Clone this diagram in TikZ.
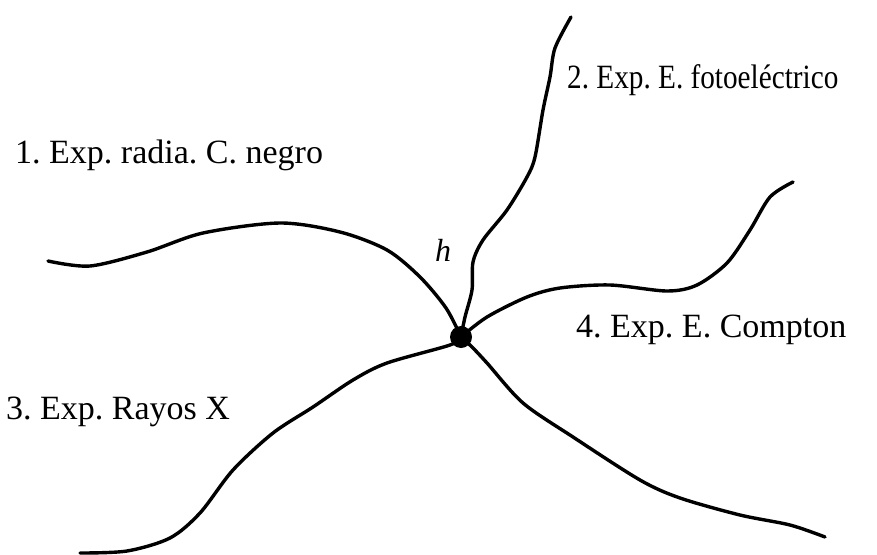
\documentclass[tikz,border=0pt]{standalone}
\usepackage{fontspec}
\setmainfont{Liberation Serif}
\usepackage{tikz}

\begin{document}
\frenchspacing
\begin{tikzpicture}[
  x=1pt, y=-1pt,
  ray/.style={line width=3.4pt, line cap=round, line join=round},
  hubdot/.style={circle, fill=black, minimum size=22pt, inner sep=0pt},
  lbl/.style={anchor=west, inner sep=0pt, font=\fontsize{34}{38}\selectfont}
]
\useasboundingbox (0,0) rectangle (877,554);
\node[hubdot] (hub) at (461,337) {};
\node[lbl] (l1) at (15,155) {1. Exp. radia. C. negro};
\node[lbl, xscale=0.86, transform shape] (l2) at (567,80) {2. Exp. E. fotoeléctrico};
\node[lbl] (l3) at (6,412) {3. Exp. Rayos X};
\node[lbl] (l4) at (576,330) {4. Exp. E. Compton};
\node[font=\fontsize{32}{36}\selectfont\itshape, inner sep=0pt] (hh) at (443,250) {h};
% free ends of the five curves
\coordinate (e1) at (48,261);
\coordinate (e2) at (571,17);
\coordinate (e3) at (80,553);
\coordinate (e4) at (793,182);
\coordinate (e5) at (825,537);
\draw[ray] plot[smooth, tension=0.5] coordinates {(e1) (90,266) (147,252) (203,233)
  (280,223) (340,232) (387,250) (420,277) (446,308) (hub)};
\draw[ray] plot[smooth, tension=0.5] coordinates {(e2) (555,48) (550,77) (543,110)
  (535,157) (527,177) (507,210) (483,240) (473,262) (472,290) (465,317) (hub)};
\draw[ray] plot[smooth, tension=0.5] coordinates {(hub) (450,345) (387,363) (353,380)
  (313,407) (273,433) (233,470) (200,513) (170,538) (127,551) (e3)};
\draw[ray] plot[smooth, tension=0.5] coordinates {(hub) (487,317) (527,297) (560,288)
  (610,285) (667,291) (697,285) (727,263) (750,230) (770,197) (e4)};
\draw[ray] plot[smooth, tension=0.5] coordinates {(hub) (472,347) (487,363) (523,403)
  (573,437) (640,480) (680,498) (740,515) (790,525) (e5)};
\end{tikzpicture}
\end{document}
